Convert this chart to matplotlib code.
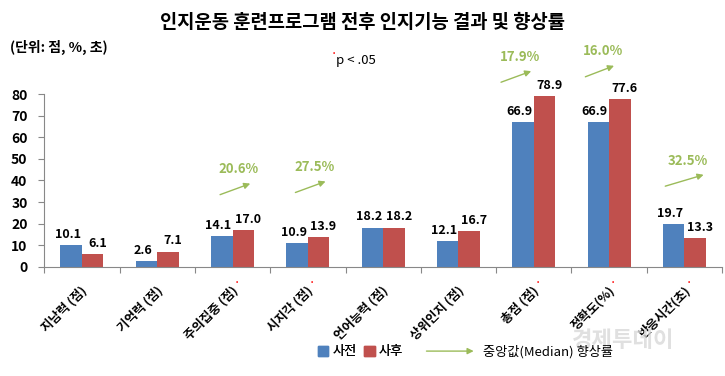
import numpy as np
import matplotlib
matplotlib.use("Agg")
import matplotlib.pyplot as plt
from matplotlib.patches import Patch, FancyArrowPatch
from matplotlib.legend_handler import HandlerBase

plt.rcParams["font.family"] = ["Noto Sans CJK KR", "DejaVu Sans"]

# data
categories = ["지남력 (점)", "기억력 (점)", "주의집중 (점)", "시지각 (점)", "언어능력 (점)",
              "상위인지 (점)", "총점 (점)", "정확도(%)", "반응시간(초)"]
pre = [10.1, 2.6, 14.1, 10.9, 18.2, 12.1, 66.9, 66.9, 19.7]
post = [6.1, 7.1, 17.0, 13.9, 18.2, 16.7, 78.9, 77.6, 13.3]
significant = [False, False, True, True, False, False, True, True, True]
improve_idx = [2, 3, 6, 7, 8]
improve_pct = ["20.6%", "27.5%", "17.9%", "16.0%", "32.5%"]

# layout of the improvement arrows (x start, x end offsets, y base)
arrow_layout = {2: (-0.2, 0.27, 33), 3: (-0.2, 0.27, 34), 6: (-0.47, 0.0, 85),
                7: (-0.35, 0.1, 87.5), 8: (-0.29, 0.29, 37)}

BLUE = "#4F81BD"
RED = "#C0504D"
GREEN = "#9BBB59"


class ArrowHandler(HandlerBase):
    def create_artists(self, legend, orig, xd, yd, width, height, fontsize, trans):
        y = yd + height / 2
        a = FancyArrowPatch((xd, y), (xd + width, y), arrowstyle="-|>",
                            mutation_scale=9, color=GREEN, lw=1, transform=trans)
        return [a]


fig = plt.figure(figsize=(7.25, 3.76), dpi=100)
ax = fig.add_axes([0.061, 0.29, 0.935, 0.46])

x = np.arange(len(categories))
w = 0.285
ax.bar(x - w / 2, pre, w, color=BLUE)
ax.bar(x + w / 2, post, w, color=RED)

# value labels, nudged apart so neighbours don't collide
for i in range(len(categories)):
    ax.annotate(f"{pre[i]:.1f}", (x[i] - w / 2, pre[i]), xytext=(-2.5, 3), textcoords="offset points",
                ha="center", va="bottom", fontsize=9, fontweight="bold")
    ax.annotate(f"{post[i]:.1f}", (x[i] + w / 2, post[i]), xytext=(3.5, 3), textcoords="offset points",
                ha="center", va="bottom", fontsize=9, fontweight="bold")

# improvement arrows
for i, pct in zip(improve_idx, improve_pct):
    x0, x1, yb = arrow_layout[i]
    ax.annotate("", xy=(i + x1, yb + 6), xytext=(i + x0, yb),
                arrowprops=dict(arrowstyle="-|>", color=GREEN, lw=1, mutation_scale=9),
                annotation_clip=False)
    ax.text(i + (x0 + x1) / 2 + 0.05, yb + 9, pct, color=GREEN, fontsize=9.5,
            fontweight="bold", ha="center", va="bottom", clip_on=False)

ax.set_xlim(-0.5, len(categories) - 0.5)
ax.set_ylim(0, 80)
ax.set_yticks(np.arange(0, 81, 10))
ax.tick_params(axis="y", labelsize=10, length=4, pad=8, color="#888888")
for t in ax.get_yticklabels():
    t.set_fontweight("bold")
ax.set_xticks(np.arange(-0.5, len(categories)), minor=False)
ax.set_xticklabels([])
ax.tick_params(axis="x", length=4, color="#888888")
for s in ["top", "right"]:
    ax.spines[s].set_visible(False)
ax.spines["left"].set_color("#888888")
ax.spines["bottom"].set_color("#888888")

# category labels with significance marks
trans = ax.get_xaxis_transform()
for i, (c, sig) in enumerate(zip(categories, significant)):
    ax.annotate(c, (i - 0.02, 0), xycoords=trans, xytext=(0, -12), textcoords="offset points",
                rotation=45, ha="right", va="top", rotation_mode="anchor",
                fontsize=9, fontweight="bold")
    if sig:
        ax.annotate("•", (i, 0), xycoords=trans, xytext=(3, -11), textcoords="offset points",
                    ha="center", va="center", fontsize=5, color="red")

fig.text(0.5, 0.94, "인지운동 훈련프로그램 전후 인지기능 결과 및 향상률", ha="center", va="center",
         fontsize=13.5, fontweight="bold")
fig.text(0.014, 0.875, "(단위: 점, %, 초)", ha="left", va="center", fontsize=10, fontweight="bold")
fig.text(0.462, 0.86, "•", color="red", ha="right", va="center", fontsize=5)
fig.text(0.464, 0.84, "p < .05", ha="left", va="center", fontsize=9.5)

# legend
leg1 = fig.legend([Patch(color=BLUE), Patch(color=RED)], ["사전", "사후"], ncol=2,
                  loc="center", bbox_to_anchor=(0.497, 0.064), frameon=False,
                  handlelength=0.8, handleheight=0.8, handletextpad=0.3, columnspacing=0.6,
                  fontsize=9.5)
fig.legend([object()], ["중앙값(Median) 향상률"], handler_map={object: ArrowHandler()},
           loc="center", bbox_to_anchor=(0.715, 0.064), frameon=False,
           handlelength=4, handletextpad=0.5, fontsize=9.5)
fig.add_artist(leg1)

fig.text(0.86, 0.095, "경제투데이", color="#d9d9d9", fontsize=16, fontweight="bold",
         ha="center", va="center", alpha=0.8)

fig.savefig("out.png", dpi=100)
